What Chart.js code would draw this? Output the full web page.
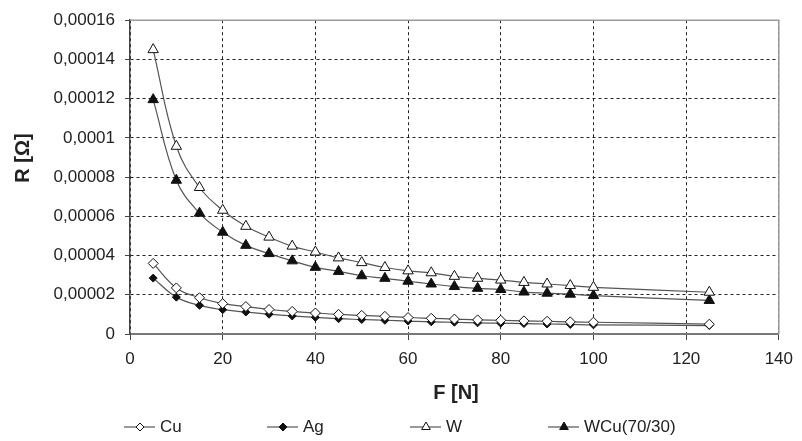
<!DOCTYPE html>
<html>
<head>
<meta charset="utf-8">
<script src="https://cdn.jsdelivr.net/npm/chart.js@4/dist/chart.umd.min.js"></script>
<style>
  html, body { margin: 0; padding: 0; background: #fff; }
  #wrap { position: relative; width: 802px; height: 441px; }
</style>
</head>
<body>
<div id="wrap"><canvas id="chart"></canvas></div>
<script>
// contact force [N]
const force = [5, 10, 15, 20, 25, 30, 35, 40, 45, 50, 55, 60, 65, 70, 75, 80, 85, 90, 95, 100, 125];

// contact resistance [Ohm]
const cu = [3.6e-5, 2.35e-5, 1.85e-5, 1.55e-5, 1.4e-5, 1.25e-5, 1.15e-5, 1.07e-5, 1.0e-5, 0.95e-5, 0.9e-5,
  0.84e-5, 0.8e-5, 0.76e-5, 0.72e-5, 0.7e-5, 0.67e-5, 0.65e-5, 0.62e-5, 0.6e-5, 0.5e-5];
const ag = [2.85e-5, 1.88e-5, 1.46e-5, 1.24e-5, 1.12e-5, 1.01e-5, 0.92e-5, 0.85e-5, 0.78e-5, 0.74e-5, 0.7e-5,
  0.66e-5, 0.62e-5, 0.6e-5, 0.57e-5, 0.55e-5, 0.53e-5, 0.51e-5, 0.49e-5, 0.47e-5, 0.43e-5];
const w = [14.5e-5, 9.57e-5, 7.47e-5, 6.31e-5, 5.49e-5, 4.94e-5, 4.48e-5, 4.18e-5, 3.88e-5, 3.64e-5, 3.39e-5,
  3.22e-5, 3.12e-5, 2.94e-5, 2.84e-5, 2.75e-5, 2.63e-5, 2.55e-5, 2.47e-5, 2.38e-5, 2.13e-5];
const wcu = [11.95e-5, 7.84e-5, 6.16e-5, 5.19e-5, 4.52e-5, 4.1e-5, 3.73e-5, 3.4e-5, 3.19e-5, 2.97e-5, 2.84e-5,
  2.69e-5, 2.55e-5, 2.42e-5, 2.33e-5, 2.27e-5, 2.14e-5, 2.08e-5, 2.03e-5, 1.96e-5, 1.71e-5];

const seriesNames = ["Cu", "Ag", "W", "WCu(70/30)"];
const xTitle = "F [N]";
const yTitle = "R [Ω]";

const FONT = "'Liberation Sans', Arial, sans-serif";
const TEXT = "#222";
const LINE = "#555";

const styles = [
  { pointStyle: "rectRot", radius: 5, fill: "#fff" },
  { pointStyle: "rectRot", radius: 4, fill: "#111" },
  { pointStyle: "triangle", radius: 6, fill: "#fff" },
  { pointStyle: "triangle", radius: 6, fill: "#111" },
];

const toPoints = (ys) => force.map((x, i) => ({ x: x, y: ys[i] }));

const datasets = [cu, ag, w, wcu].map((ys, i) => ({
  label: seriesNames[i],
  data: toPoints(ys),
  borderColor: LINE,
  borderWidth: 1.2,
  tension: 0.4,
  pointStyle: styles[i].pointStyle,
  pointRadius: styles[i].radius,
  pointBackgroundColor: styles[i].fill,
  pointBorderColor: "#111",
  pointBorderWidth: 1,
}));

// frame, axis titles and the legend row under the chart
const decorations = {
  id: "decorations",
  beforeDatasetsDraw(chart) {
    const { ctx, chartArea: a } = chart;
    ctx.save();
    ctx.strokeStyle = "#999";
    ctx.lineWidth = 1.5;
    ctx.beginPath();
    ctx.moveTo(a.left, a.top);
    ctx.lineTo(a.right, a.top);
    ctx.lineTo(a.right, a.bottom);
    ctx.stroke();
    ctx.restore();
  },
  afterDraw(chart) {
    const ctx = chart.ctx;
    ctx.save();
    ctx.fillStyle = TEXT;
    ctx.font = "bold 20px " + FONT;
    ctx.textAlign = "center";
    ctx.textBaseline = "middle";
    ctx.fillText(xTitle, 456, 393);

    ctx.save();
    ctx.translate(23, 158);
    ctx.rotate(-Math.PI / 2);
    ctx.fillText(yTitle, 0, 0);
    ctx.restore();

    const legendX = [124, 267, 410, 548];
    const legendY = 427;
    ctx.font = "17px " + FONT;
    ctx.textAlign = "left";
    chart.data.datasets.forEach((ds, i) => {
      const x0 = legendX[i];
      ctx.strokeStyle = LINE;
      ctx.lineWidth = 1.2;
      ctx.beginPath();
      ctx.moveTo(x0, legendY);
      ctx.lineTo(x0 + 31, legendY);
      ctx.stroke();

      ctx.fillStyle = ds.pointBackgroundColor;
      ctx.strokeStyle = ds.pointBorderColor;
      ctx.lineWidth = 1;
      Chart.helpers.drawPoint(ctx, {
        pointStyle: ds.pointStyle,
        radius: ds.pointStyle === "triangle" ? 5 : 4,
        rotation: 0,
        borderWidth: 1,
      }, x0 + 16, legendY);

      ctx.fillStyle = TEXT;
      ctx.fillText(ds.label, x0 + 36, legendY);
    });
    ctx.restore();
  },
};

new Chart(document.getElementById("chart"), {
  type: "line",
  data: { datasets: datasets },
  plugins: [decorations],
  options: {
    responsive: true,
    maintainAspectRatio: false,
    animation: false,
    layout: { padding: { top: 16, right: 18, left: 0, bottom: 0 } },
    plugins: {
      legend: { display: false },
      tooltip: { enabled: false },
    },
    scales: {
      x: {
        type: "linear",
        min: 0,
        max: 140,
        afterFit: (scale) => { scale.height = 107; },
        ticks: {
          stepSize: 20,
          color: TEXT,
          padding: 9,
          maxRotation: 0,
          font: { family: FONT, size: 17 },
        },
        grid: { color: "#222", tickColor: "#444", tickLength: 6, lineWidth: 1 },
        border: { color: "#777", width: 2, dash: [3, 3] },
      },
      y: {
        min: 0,
        max: 0.00016,
        afterFit: (scale) => { scale.width = 130; },
        ticks: {
          stepSize: 0.00002,
          color: TEXT,
          padding: 10,
          font: { family: FONT, size: 17 },
          callback: (value) => String(Number(value.toFixed(5))).replace(".", ","),
        },
        grid: { color: "#222", tickColor: "#444", tickLength: 5, lineWidth: 1 },
        border: { color: "#444", width: 1.5, dash: [3, 3] },
      },
    },
  },
});
</script>
</body>
</html>
